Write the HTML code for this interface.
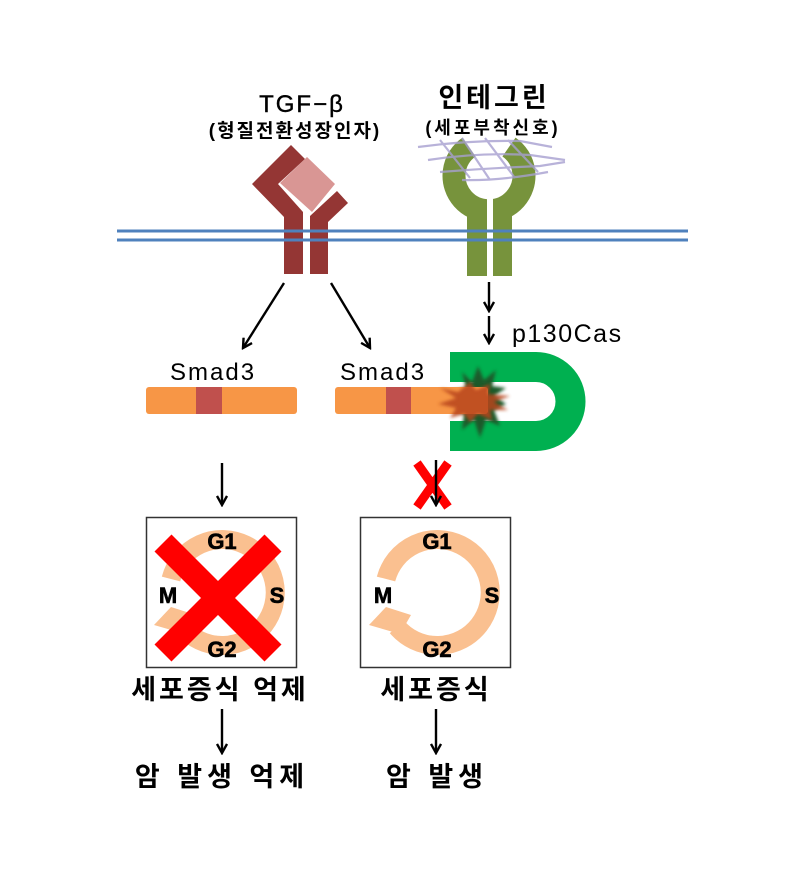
<!DOCTYPE html>
<html><head><meta charset="utf-8"><style>
html,body{margin:0;padding:0;background:#fff;}
svg{display:block;}
.k{font-family:"Liberation Sans","Noto Sans CJK KR",sans-serif;}
</style></head><body>
<svg width="807" height="886" viewBox="0 0 807 886" xmlns="http://www.w3.org/2000/svg">
<defs>
<marker id="ah" markerWidth="12" markerHeight="12" refX="10" refY="6" orient="auto" markerUnits="userSpaceOnUse">
<path d="M1,1 L10,6 L1,11" fill="none" stroke="#000" stroke-width="2.4"/>
</marker>
<filter id="bl" x="-30%" y="-30%" width="160%" height="160%"><feGaussianBlur stdDeviation="1.6"/></filter>
</defs>
<rect width="807" height="886" fill="#fff"/>

<!-- titles -->
<text x="302" y="112" class="k" font-size="24" letter-spacing="2" text-anchor="middle" fill="#000" stroke="#000" stroke-width="0.4">TGF−β</text>
<text x="295" y="137" class="k" font-size="19" letter-spacing="2" font-weight="bold" text-anchor="middle" fill="#000">(형질전환성장인자)</text>
<text x="494" y="107" class="k" font-size="27" letter-spacing="3" font-weight="bold" text-anchor="middle" fill="#000">인테그린</text>
<text x="493" y="134" class="k" font-size="18" letter-spacing="3" font-weight="bold" text-anchor="middle" fill="#000">(세포부착신호)</text>

<!-- TGF receptor -->
<polygon points="291,145 305,159 278,184 303,212 303,274 284,274 284,217 252,184" fill="#943634"/>
<polygon points="310,274 328,274 328,222 348,203 337,191 310,216" fill="#943634"/>
<polygon points="307,157 335,184 312,212 280,183" fill="#d99694"/>

<!-- integrin -->
<path d="M469,147 A35,35 0 1 0 509,147" fill="none" stroke="#77933c" stroke-width="23"/>
<rect x="467" y="200" width="20" height="76" fill="#77933c"/>
<rect x="493" y="200" width="19" height="76" fill="#77933c"/>
<rect x="487" y="196" width="6" height="80" fill="#fff"/>
<g stroke="#a7a0d0" stroke-width="2.2" fill="none" opacity="0.8">
<path d="M418,147 Q470,140 520,141 L552,147"/>
<path d="M428,160 Q480,152 530,155 L565,160"/>
<path d="M440,172 Q490,168 540,166 L565,162"/>
<path d="M462,180 Q500,181 548,172"/>
<path d="M440,140 L470,178"/>
<path d="M462,138 L490,180"/>
<path d="M485,138 L515,178"/>
<path d="M508,140 L538,172"/>
</g>

<!-- membrane -->
<line x1="117" y1="231" x2="688" y2="231" stroke="#4f81bd" stroke-width="3"/>
<line x1="117" y1="240" x2="688" y2="240" stroke="#4f81bd" stroke-width="3"/>

<!-- arrows top -->
<g stroke="#000" stroke-width="2.4" marker-end="url(#ah)">
<line x1="284" y1="283" x2="243" y2="348"/>
<line x1="331" y1="283" x2="370" y2="348"/>
<line x1="489" y1="282" x2="489" y2="311"/>
<line x1="489" y1="316" x2="489" y2="343"/>
</g>
<text x="512" y="342" class="k" font-size="25" letter-spacing="1.5" fill="#000">p130Cas</text>
<text x="170" y="380" class="k" font-size="24" letter-spacing="2" fill="#000">Smad3</text>
<text x="340" y="380" class="k" font-size="24" letter-spacing="2" fill="#000">Smad3</text>

<!-- bars -->
<rect x="146" y="387" width="151" height="27" rx="3" fill="#f79646"/>
<rect x="196" y="387" width="26" height="27" fill="#c0504d"/>

<!-- green D -->
<path d="M450,367 L536,367 A34.5,34.5 0 0 1 536,436 L450,436" fill="none" stroke="#00b050" stroke-width="30"/>
<polygon fill="#1e5a2c" filter="url(#bl)" points="478,366 484,380 496,370 492,386 506,388 494,396 506,404 494,410 500,426 486,420 480,438 474,420 462,430 464,414 452,410 462,400 452,390 466,388 462,372 472,382"/>
<rect x="335" y="387" width="153" height="27" rx="3" fill="#f79646"/>
<rect x="386" y="387" width="25" height="27" fill="#c0504d"/>
<polygon fill="#b8441c" opacity="0.85" filter="url(#bl)" points="470,382 476,390 490,384 488,394 510,396 494,402 508,410 490,410 492,420 478,414 470,422 464,414 450,418 456,408 438,404 456,398 440,388 458,392"/>

<!-- down arrows mid -->
<line x1="222" y1="463" x2="222" y2="505" stroke="#000" stroke-width="2.4" marker-end="url(#ah)"/>
<line x1="417" y1="463" x2="448" y2="507" stroke="#ff0000" stroke-width="9"/>
<line x1="448" y1="463" x2="417" y2="507" stroke="#ff0000" stroke-width="9"/>
<line x1="436" y1="460" x2="436" y2="505" stroke="#000" stroke-width="2.4" marker-end="url(#ah)"/>

<!-- boxes -->
<rect x="146.5" y="517.5" width="150" height="150" fill="#fff" stroke="#333" stroke-width="1.5"/>
<rect x="360.5" y="517.5" width="150" height="150" fill="#fff" stroke="#333" stroke-width="1.5"/>

<!-- cycle right -->
<g id="cyc">
<path d="M386,579 A53,53 0 1 1 397,627" fill="none" stroke="#fac090" stroke-width="19"/>
<polygon points="369,625 386,607 411,615 400,634" fill="#fac090"/>
<text x="437" y="549" class="k" font-size="22" font-weight="bold" text-anchor="middle" fill="#000" stroke="#000" stroke-width="0.6">G1</text>
<text x="492" y="603" class="k" font-size="22" font-weight="bold" text-anchor="middle" fill="#000" stroke="#000" stroke-width="0.6">S</text>
<text x="437" y="657" class="k" font-size="22" font-weight="bold" text-anchor="middle" fill="#000" stroke="#000" stroke-width="0.6">G2</text>
<text x="383" y="603" class="k" font-size="22" font-weight="bold" text-anchor="middle" fill="#000" stroke="#000" stroke-width="0.6">M</text>
</g>
<use href="#cyc" x="-215" y="0"/>
<line x1="163" y1="543" x2="273" y2="653" stroke="#ff0000" stroke-width="24"/>
<line x1="273" y1="543" x2="163" y2="653" stroke="#ff0000" stroke-width="24"/>

<!-- bottom -->
<text x="220" y="699" class="k" font-size="27" letter-spacing="3" font-weight="bold" text-anchor="middle" fill="#000">세포증식 억제</text>
<text x="436" y="699" class="k" font-size="27" letter-spacing="3" font-weight="bold" text-anchor="middle" fill="#000">세포증식</text>
<line x1="222" y1="709" x2="222" y2="753" stroke="#000" stroke-width="2.4" marker-end="url(#ah)"/>
<line x1="436" y1="709" x2="436" y2="753" stroke="#000" stroke-width="2.4" marker-end="url(#ah)"/>
<text x="222" y="786" class="k" font-size="27" letter-spacing="5" font-weight="bold" text-anchor="middle" fill="#000">암 발생 억제</text>
<text x="437" y="786" class="k" font-size="27" letter-spacing="5" font-weight="bold" text-anchor="middle" fill="#000">암 발생</text>
</svg>
</body></html>
